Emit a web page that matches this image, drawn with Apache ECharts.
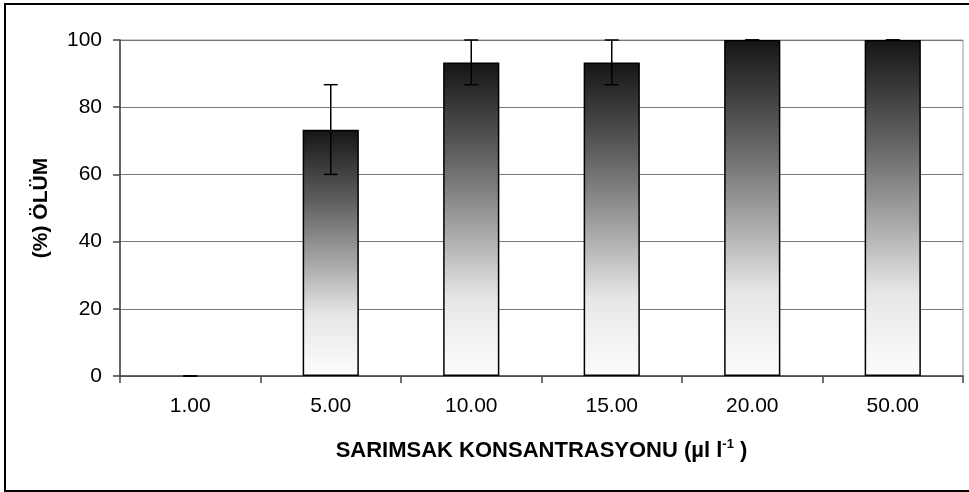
<!DOCTYPE html>
<html>
<head>
<meta charset="utf-8">
<script src="https://cdn.jsdelivr.net/npm/echarts@6/dist/echarts.min.js"></script>
<style>
  html, body { margin: 0; padding: 0; background: #fff; }
  #chart { width: 969px; height: 492px; }
</style>
</head>
<body>
<div id="chart"></div>
<script>
// 数据
const concentrations = ['1.00', '5.00', '10.00', '15.00', '20.00', '50.00'];
const mortality = [0, 73.3, 93.3, 93.3, 100, 100];
const errLow = [0, 60, 86.7, 86.7, 100, 100];
const errHigh = [0, 86.7, 100, 100, 100, 100];
const yTicks = [0, 20, 40, 60, 80, 100];

const chart = echarts.init(document.getElementById('chart'));

// 误差线
const renderErrorBar = (params, api) => {
  const i = api.value(0);
  const low = api.coord([i, api.value(1)]);
  const high = api.coord([i, api.value(2)]);
  const half = 7;
  const style = { stroke: '#000', lineWidth: 1.5 };
  return {
    type: 'group',
    children: [
      { type: 'line', shape: { x1: high[0], y1: high[1], x2: low[0], y2: low[1] }, style },
      { type: 'line', shape: { x1: high[0] - half, y1: high[1], x2: high[0] + half, y2: high[1] }, style },
      { type: 'line', shape: { x1: low[0] - half, y1: low[1], x2: low[0] + half, y2: low[1] }, style }
    ]
  };
};

const option = {
  animation: false,
  textStyle: { fontFamily: 'Liberation Sans, Arial, sans-serif' },
  graphic: [{
    type: 'rect',
    shape: { x: 5, y: 4, width: 1000, height: 487 },
    style: { fill: 'none', stroke: '#000', lineWidth: 2 },
    silent: true
  }],
  grid: { left: 120, right: 6, top: 40, bottom: 116, show: true, borderColor: '#999', borderWidth: 1 },
  xAxis: {
    type: 'category',
    data: concentrations,
    name: '{t|SARIMSAK KONSANTRASYONU (µl l}{s|-1}{t| )}',
    nameLocation: 'middle',
    nameGap: 62,
    nameTextStyle: {
      rich: {
        t: { fontSize: 22, fontWeight: 'bold', color: '#000', fontFamily: 'Liberation Sans' },
        s: { fontSize: 13, fontWeight: 'bold', color: '#000', fontFamily: 'Liberation Sans', verticalAlign: 'top', padding: [0, 0, 12, 0] }
      }
    },
    axisLine: { lineStyle: { color: '#444', width: 1.5 } },
    axisTick: { show: true, length: 7, lineStyle: { color: '#444', width: 1.5 } },
    axisLabel: { color: '#000', fontSize: 21, margin: 20 }
  },
  yAxis: {
    type: 'value',
    min: 0,
    max: 100,
    interval: 20,
    name: '(%) ÖLÜM',
    nameLocation: 'middle',
    nameGap: 68,
    nameRotate: 90,
    nameTextStyle: { fontSize: 21, fontWeight: 'bold', color: '#000' },
    axisLine: { show: true, lineStyle: { color: '#444', width: 1.5 } },
    axisTick: { show: true, length: 7, lineStyle: { color: '#444', width: 1.5 } },
    axisLabel: {
      color: '#000', fontSize: 21, margin: 18,
      formatter: (v) => (yTicks.includes(v) ? String(v) : '')
    },
    splitLine: { lineStyle: { color: '#777', width: 1.2 } }
  },
  series: [
    {
      type: 'bar',
      data: mortality.map((v) => (v === 0 ? { value: v, itemStyle: { borderWidth: 0 } } : v)),
      barWidth: '40%',
      itemStyle: {
        borderColor: '#000',
        borderWidth: 1.5,
        color: new echarts.graphic.LinearGradient(0, 0, 0, 1, [
          { offset: 0, color: '#151515' },
          { offset: 0.3, color: '#626262' },
          { offset: 0.55, color: '#aaaaaa' },
          { offset: 0.75, color: '#e6e6e6' },
          { offset: 1, color: '#fdfdfd' }
        ])
      },
      z: 2
    },
    {
      type: 'custom',
      renderItem: renderErrorBar,
      data: concentrations.map((c, i) => [i, errLow[i], errHigh[i]]),
      encode: { x: 0, y: [1, 2] },
      z: 3
    }
  ]
};

chart.setOption(option);
</script>
</body>
</html>
